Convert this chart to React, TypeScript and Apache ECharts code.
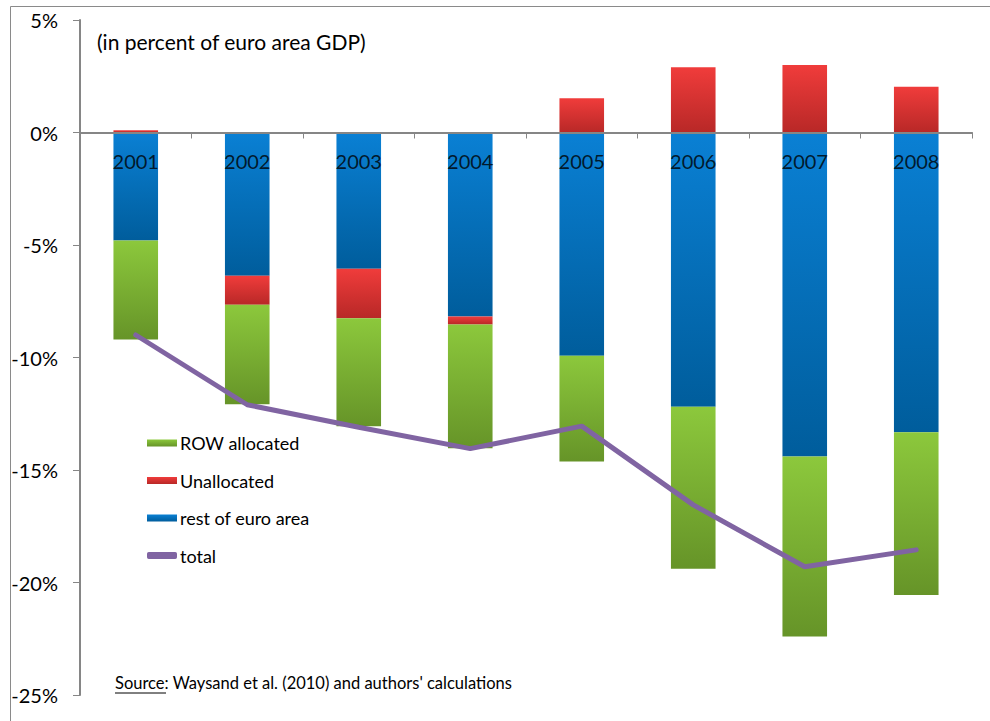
import React, { useEffect, useRef } from "react";
import * as echarts from "echarts";

const years = ["2001", "2002", "2003", "2004", "2005", "2006", "2007", "2008"];
const restOfEuroArea = [-4.8, -6.37, -6.05, -8.18, -9.92, -12.19, -14.4, -13.32];
const unallocated = [0.1, -1.29, -2.2, -0.35, 1.52, 2.9, 3.0, 2.03];
const rowAllocated = [-4.4, -4.42, -4.8, -5.5, -4.7, -7.2, -8.0, -7.23];
const total = [-9.0, -12.1, -13.1, -14.05, -13.05, -16.55, -19.3, -18.55];
const yTicks = [5, 0, -5, -10, -15, -20, -25];
const labelBase = years.map(() => 0);

const FONT = "Lato, 'Open Sans', sans-serif";

function grad(top: string, bottom: string) {
  return new echarts.graphic.LinearGradient(0, 0, 0, 1, [
    { offset: 0, color: top },
    { offset: 1, color: bottom },
  ]);
}

export default function App() {
  const ref = useRef<HTMLDivElement>(null);
  useEffect(() => {
    if (!ref.current) return;
    const chart = echarts.init(ref.current, null, { renderer: "svg" });
    chart.setOption({
      animation: false,
      backgroundColor: "#ffffff",
      grid: { left: 80, right: 18, top: 20, bottom: 26, outerBoundsMode: "none", containLabel: false },
      xAxis: {
        type: "category",
        data: years,
        z: 10,
        axisLine: { onZero: true, lineStyle: { color: "#868686", width: 2 } },
        axisTick: { show: true, alignWithLabel: false, length: 6, lineStyle: { color: "#868686", width: 1 } },
        axisLabel: { show: false },
      },
      yAxis: {
        type: "value",
        min: -25,
        max: 5,
        interval: 5,
        splitLine: { show: false },
        axisLine: { show: true, lineStyle: { color: "#868686", width: 2 } },
        axisTick: { show: true, length: 7, lineStyle: { color: "#868686", width: 1 } },
        axisLabel: {
          color: "#000",
          fontSize: 20,
          fontFamily: FONT,
          margin: 22,
          formatter: (v: number) => (yTicks.includes(v) ? v + "%" : ""),
        },
      },
      legend: {
        orient: "vertical",
        left: 142,
        top: 429,
        itemGap: 19.5,
        itemWidth: 30,
        itemHeight: 7,
        textStyle: { color: "#000", fontSize: 18, fontFamily: FONT, padding: [0, 0, 0, -2] },
        data: [
          { name: "ROW allocated", icon: "rect" },
          { name: "Unallocated", icon: "rect" },
          { name: "rest of euro area", icon: "rect" },
          { name: "total", icon: "roundRect" },
        ],
      },
      series: [
        {
          name: "rest of euro area",
          type: "bar",
          stack: "s",
          barWidth: "40%",
          data: restOfEuroArea,
          itemStyle: { color: grad("#0a80d4", "#005d9c") },
        },
        {
          name: "Unallocated",
          type: "bar",
          stack: "s",
          barWidth: "40%",
          data: unallocated,
          itemStyle: { color: grad("#f03c3b", "#b82827") },
        },
        {
          name: "ROW allocated",
          type: "bar",
          stack: "s",
          barWidth: "40%",
          data: rowAllocated,
          itemStyle: { color: grad("#8cc83c", "#669428") },
        },
        {
          name: "total",
          type: "line",
          data: total,
          showSymbol: false,
          symbol: "none",
          z: 5,
          lineStyle: { color: "#8064a2", width: 5, cap: "round" },
          itemStyle: { color: "#8064a2" },
        },
        {
          name: "yearLabels",
          type: "scatter",
          data: labelBase,
          symbolSize: 2,
          z: 20,
          silent: true,
          itemStyle: { color: "rgba(0,0,0,0)" },
          label: {
            show: true,
            position: "bottom",
            distance: 17,
            formatter: (p: any) => years[p.dataIndex],
            color: "#000",
            fontSize: 20,
            fontFamily: FONT,
          },
        },
      ],
      graphic: [
        {
          type: "rect",
          shape: { x: 10.5, y: 6.5, width: 1200, height: 1200 },
          style: { fill: "none", stroke: "#8a8a8a", lineWidth: 1 },
          silent: true,
          z: -10,
        },
        {
          type: "text",
          left: 97,
          top: 31,
          style: { text: "(in percent of euro area GDP)", fill: "#000", fontSize: 21, fontFamily: FONT },
        },
        {
          type: "text",
          left: 115,
          top: 674,
          style: {
            text: "Source: Waysand et al. (2010) and authors' calculations",
            fill: "#000",
            fontSize: 16.5,
            fontFamily: FONT,
          },
        },
        {
          type: "line",
          shape: { x1: 115, y1: 693, x2: 166, y2: 693 },
          style: { stroke: "#000", lineWidth: 1 },
        },
      ],
    });
    return () => chart.dispose();
  }, []);
  return (
    <div
      ref={ref}
      style={{ position: "fixed", left: 0, top: 0, width: 990, height: 721 }}
    />
  );
}
